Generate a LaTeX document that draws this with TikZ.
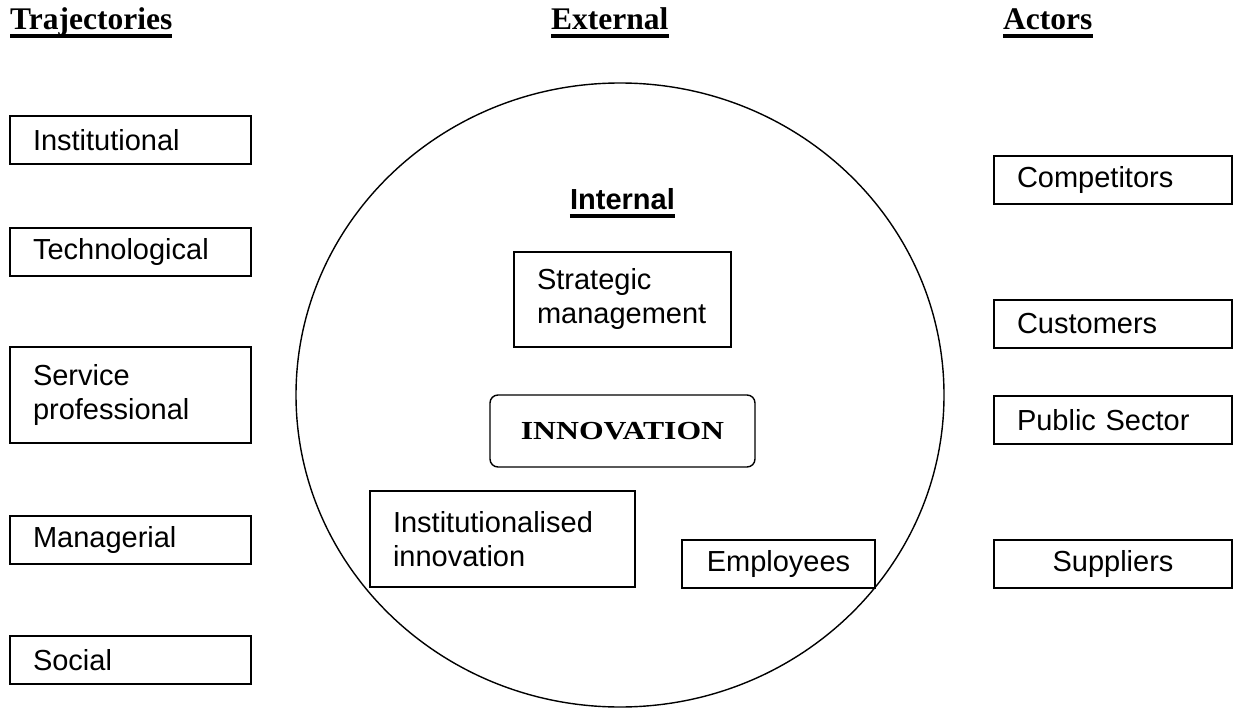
\documentclass[tikz,border=0pt]{standalone}
\usepackage{fontspec}
\setmainfont{Liberation Serif}
\setsansfont{Liberation Sans}
\usepackage{tikz}
\usetikzlibrary{shapes.geometric, positioning}
\newcommand{\boxfont}{\sffamily\fontsize{29}{34}\selectfont}
\tikzstyle{heading} = [inner sep=0pt, anchor=base west,
font=\bfseries\fontsize{31.5}{36}\selectfont]
\tikzstyle{textbox} = [rectangle, draw=black, fill=white, line width=1.4pt,
inner xsep=23pt, inner ysep=0pt, align=left, font=\boxfont]
\tikzstyle{trajbox} = [textbox, text width=195pt, minimum height=48pt]
\tikzstyle{actorbox} = [textbox, text width=192pt, minimum height=48pt]
\tikzstyle{ulline} = [line width=4.5pt]

\begin{document}
\begin{tikzpicture}[x=1pt, y=-1pt]
    \useasboundingbox (0,0) rectangle (1236,708);
    \node (outer) [ellipse, draw, line width=1.4pt, inner sep=0pt,
    minimum width=648pt, minimum height=624pt] at (620,395) {};

    \node (traj)  [heading] at (10,30)   {Trajectories};
    \node (ext)   [heading] at (551,30)  {External};
    \node (act)   [heading] at (1003,30) {Actors};
    \node (intl)  [heading, anchor=base, font=\sffamily\bfseries\fontsize{29}{34}\selectfont]
    at (622.5,210) {Internal};

    \node (inst) [trajbox] at (130.5,140) {Institutional};
    \node (tech) [trajbox] at (130.5,252) {Technological};
    \node (serv) [trajbox, minimum height=96pt] at (130.5,395) {Service\\professional};
    \node (mgr)  [trajbox] at (130.5,540) {Managerial};
    \node (soc)  [trajbox] at (130.5,660) {Social};

    \node (comp) [actorbox] at (1113,180) {Competitors};
    \node (cust) [actorbox] at (1113,324) {Customers};
    \node (pub)  [actorbox] at (1113,420) {Public Sector};
    \node (supp) [actorbox, align=center] at (1113,564) {Suppliers};

    \node (strat)   [textbox, text width=171pt, minimum height=95pt]
    at (622.5,299.5) {Strategic\\management};
    \node (innov)   [textbox, rounded corners=8pt, text width=219pt, minimum height=72pt,
    align=center, font=\rmfamily\bfseries\fontsize{26}{30}\selectfont]
    at (622.5,431) {\scalebox{1.22}[1]{INNOVATION}};
    \node (instinn) [textbox, text width=219pt, minimum height=96pt]
    at (502.5,539) {Institutionalised\\innovation};
    \node (empl)    [textbox, text width=147pt, minimum height=48pt, align=center]
    at (778.5,564) {Employees};

    \draw[ulline] ([yshift=-6pt]traj.base west) -- ([yshift=-6pt]traj.base east);
    \draw[ulline] ([yshift=-6pt]ext.base west)  -- ([yshift=-6pt]ext.base east);
    \draw[ulline] ([yshift=-6pt]act.base west)  -- ([yshift=-6pt]act.base east);
    \draw[ulline, line width=4pt] ([yshift=-6pt]intl.base west) -- ([yshift=-6pt]intl.base east);
\end{tikzpicture}
\end{document}
